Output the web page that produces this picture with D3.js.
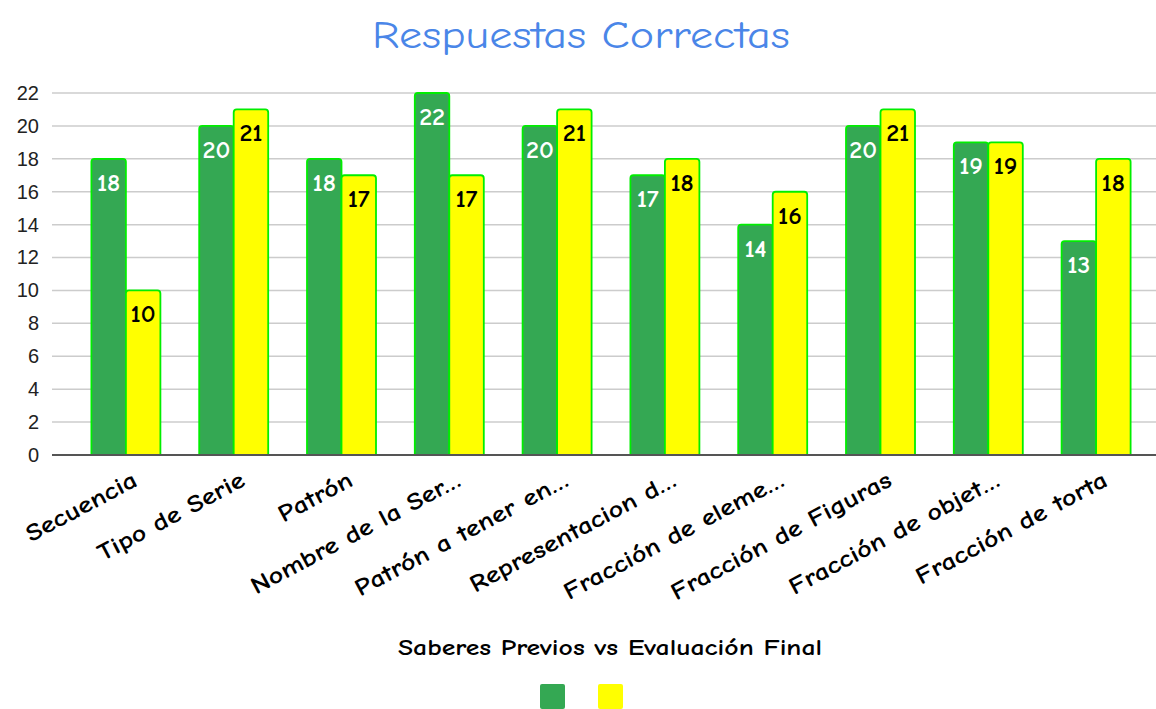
<!DOCTYPE html>
<html>
<head>
<meta charset="utf-8">
<script src="https://cdn.jsdelivr.net/npm/d3@7"></script>
<style>
body{margin:0;background:#fff;}
svg{display:block;}
</style>
</head>
<body>
<svg id="chart" width="1156" height="709"></svg>
<script>
const categories = ["Secuencia","Tipo de Serie","Patrón","Nombre de la Ser…","Patrón a tener en…","Representacion d…","Fracción de eleme…","Fracción de Figuras","Fracción de objet…","Fracción de torta"];
const saberesPrevios = [18,20,18,22,20,17,14,20,19,13];
const evaluacionFinal = [10,21,17,17,21,18,16,21,19,18];
const yTicks = [0,2,4,6,8,10,12,14,16,18,20,22];
const seriesNames = ["Saberes Previos","Evaluación Final"];
const title = "Respuestas Correctas";
const xTitle = "Saberes Previos vs Evaluación Final";

const comic = "'Comic Sans MS','Comic Neue','Lato','Open Sans',sans-serif";
const svg = d3.select("#chart");
const gridLeft = 52, gridRight = 1156;
const x = d3.scaleBand().domain(categories).range([72, 1150]);
const y = d3.scaleLinear().domain([0,22]).range([455, 93]);
const colors = ["#34a853","#ffff00"];
const stroke = "#00ee00";

function widen(sel, factor){
  sel.each(function(){
    const len = this.getComputedTextLength();
    d3.select(this).attr("textLength", len*factor).attr("lengthAdjust","spacingAndGlyphs");
  });
}

// gridlines
svg.append("g").selectAll("line").data(yTicks.filter(d=>d>0)).join("line")
  .attr("x1", gridLeft).attr("x2", gridRight)
  .attr("y1", d=>y(d)).attr("y2", d=>y(d))
  .attr("stroke","#cccccc").attr("stroke-width",1.5);

// y axis labels
const yAxis = d3.axisLeft(y).tickValues(yTicks).tickSize(0).tickPadding(0);
const ya = svg.append("g").attr("transform","translate(39,0)").call(yAxis);
ya.select(".domain").remove();
ya.selectAll("text").attr("font-family","'Liberation Sans',Arial,sans-serif").attr("font-size",20).attr("fill","#222");

const barW = 34.5;
const series = [saberesPrevios, evaluacionFinal];
const g = svg.append("g");
series.forEach((vals, si) => {
  const cx = c => x(c) + x.bandwidth()/2;
  const bx = c => si === 0 ? cx(c) - barW : cx(c);
  g.selectAll(".b"+si).data(categories).join("path")
    .attr("class","b"+si)
    .attr("d", (c,i) => {
      const x0 = bx(c), x1 = x0 + barW, y0 = y(0), y1 = y(vals[i]), r = 3;
      return `M${x0},${y0}V${y1+r}Q${x0},${y1} ${x0+r},${y1}H${x1-r}Q${x1},${y1} ${x1},${y1+r}V${y0}Z`;
    })
    .attr("fill", colors[si]).attr("stroke", stroke).attr("stroke-width", 1.8);
  const lab = g.selectAll(".l"+si).data(categories).join("text")
    .attr("x", c => bx(c) + barW/2)
    .attr("y", (c,i) => y(vals[i]) + 32)
    .attr("text-anchor","middle")
    .attr("font-family", comic).attr("font-weight","bold").attr("font-size",24)
    .attr("fill", si === 0 ? "#ffffff" : "#000000")
    .text((c,i) => vals[i]);
  widen(lab, 1.08);
});

// baseline
svg.append("line").attr("x1",gridLeft).attr("x2",gridRight).attr("y1",y(0)).attr("y2",y(0))
  .attr("stroke","#555").attr("stroke-width",2);

// x labels
const xl = svg.append("g").selectAll("text").data(categories).join("text")
  .attr("transform", c => `translate(${x(c)+x.bandwidth()/2+13},${485}) rotate(-28)`)
  .attr("text-anchor","end")
  .attr("font-family", comic).attr("font-weight","bold").attr("font-size",24).attr("fill","#000")
  .text(c=>c);
widen(xl, 1.19);

// title
const t = svg.append("text").attr("x",581).attr("y",48).attr("text-anchor","middle")
  .attr("font-family", comic).attr("font-size",38).attr("fill","#4a86e8").text(title);
t.attr("textLength", 418).attr("lengthAdjust","spacingAndGlyphs");

// x axis title
const xt = svg.append("text").attr("x",610).attr("y",655).attr("text-anchor","middle")
  .attr("font-family", comic).attr("font-weight","bold").attr("font-size",23).attr("fill","#000").text(xTitle);
xt.attr("textLength", 424).attr("lengthAdjust","spacingAndGlyphs");

// legend
svg.append("g").selectAll("rect").data(seriesNames).join("rect")
  .attr("x",(d,i)=>540+i*58).attr("y",684).attr("width",25).attr("height",25).attr("rx",2)
  .attr("fill",(d,i)=>colors[i]);
</script>
</body>
</html>
